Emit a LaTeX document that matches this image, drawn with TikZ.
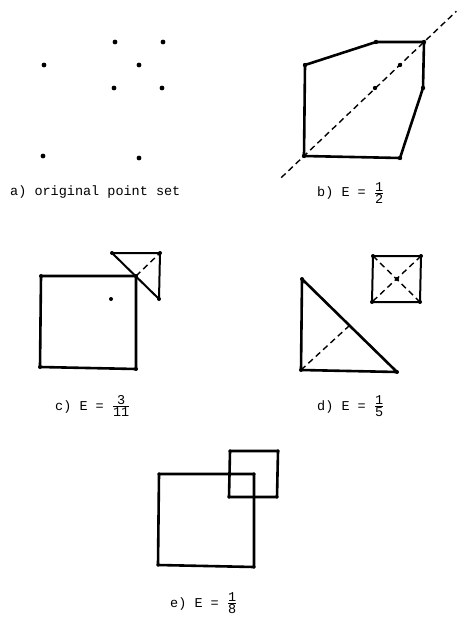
\documentclass[tikz,border=0pt]{standalone}
\usepackage{amsmath}
\usepackage{fontspec}
\setmonofont{Liberation Mono}
\usetikzlibrary{calc}
\newcommand\frc[2]{\ensuremath{\genfrac{}{}{0.7pt}{1}{\mbox{\ttfamily #1\rule[-1pt]{0pt}{1pt}}}{\mbox{\ttfamily #2}}}}
\newcommand\ptset[1]{%
  \coordinate (#1p1) at (115,42);
  \coordinate (#1p2) at (163,42);
  \coordinate (#1p3) at (44,65);
  \coordinate (#1p4) at (139,65);
  \coordinate (#1p5) at (114,88);
  \coordinate (#1p6) at (162,88);
  \coordinate (#1p7) at (43,156);
  \coordinate (#1p8) at (139,158);
}
\newcommand\ptdots[2]{%
  \foreach \k in {1,...,8} \fill (#1p\k) circle (#2);
}
\begin{document}
\begin{tikzpicture}[x=1pt,y=-1pt,
  hull/.style={line width=2.6pt,line join=round},
  thinhull/.style={line width=2pt,line join=round},
  dsh/.style={line width=1.4pt,dash pattern=on 6pt off 4pt},
  lab/.style={anchor=base west,inner sep=0pt,font=\fontsize{13.5}{16}\selectfont\ttfamily}]
\useasboundingbox (0,0) rectangle (457,617);
% a)
\ptset{a}
\ptdots{a}{2.4pt}
\node[lab] (la) at (10,196) {a) original point set};
% b)
\begin{scope}[shift={(261,0)}]
\ptset{b}
\end{scope}
\draw[hull] (bp3) -- (bp1) -- (bp2) -- (bp6) -- (bp8) -- (bp7) -- cycle;
\draw[dsh] ($(bp7)!-0.19!(bp2)$) -- ($(bp7)!1.27!(bp2)$);
\ptdots{b}{2.2pt}
\node[lab] (lb) at (317,197) {b) E = \frc{1}{2}};
% c)
\begin{scope}[shift={(-3,211)}]
\ptset{c}
\end{scope}
\draw[hull] (cp3) -- (cp4) -- (cp8) -- (cp7) -- cycle;
\draw[thinhull] (cp1) -- (cp2) -- (cp6) -- cycle;
\draw[dsh] (cp4) -- (cp2);
\ptdots{c}{2pt}
\node[lab] (lc) at (55,410) {c) E = \frc{3}{11}};
% d)
\begin{scope}[shift={(258,214)}]
\ptset{d}
\end{scope}
\draw[hull] (dp3) -- (dp7) -- (dp8) -- cycle;
\draw[dsh] (dp7) -- ($(dp3)!0.5!(dp8)$);
\draw[thinhull] (dp1) -- (dp2) -- (dp6) -- (dp5) -- cycle;
\draw[dsh] (dp1) -- (dp6);
\draw[dsh] (dp2) -- (dp5);
\ptdots{d}{2pt}
\node[lab] (ld) at (317,410) {d) E = \frc{1}{5}};
% e)
\begin{scope}[shift={(115,409)}]
\ptset{e}
\end{scope}
\draw[hull] (ep3) -- (ep4) -- (ep8) -- (ep7) -- cycle;
\draw[hull] (ep1) -- (ep2) -- (ep6) -- (ep5) -- cycle;
\ptdots{e}{1.8pt}
\node[lab] (le) at (170,607) {e) E = \frc{1}{8}};
\end{tikzpicture}
\end{document}
